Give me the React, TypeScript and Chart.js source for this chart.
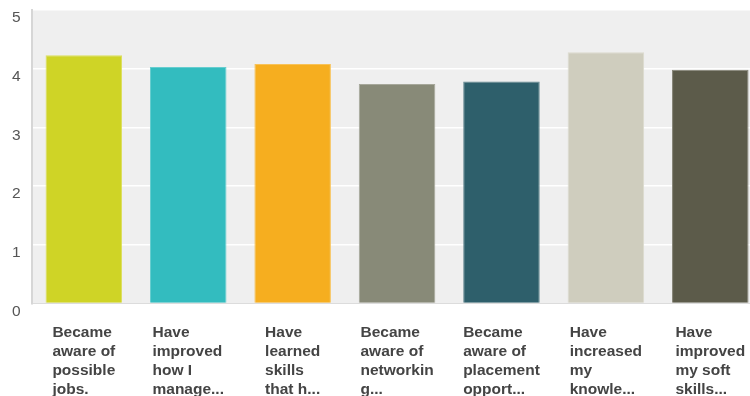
import React, { useEffect, useRef } from "react";
import { Chart, registerables } from "chart.js";

Chart.register(...registerables);

const categories: string[][] = [
  ["Became", "aware of", "possible", "jobs."],
  ["Have", "improved", "how I", "manage..."],
  ["Have", "learned", "skills", "that h..."],
  ["Became", "aware of", "networkin", "g..."],
  ["Became", "aware of", "placement", "opport..."],
  ["Have", "increased", "my", "knowle..."],
  ["Have", "improved", "my soft", "skills..."],
];
const values: number[] = [4.23, 4.03, 4.08, 3.74, 3.78, 4.28, 3.98];
const yTicks: number[] = [0, 1, 2, 3, 4, 5];

const barColors = ["#cfd426", "#33bcbf", "#f6ae1f", "#888a78", "#2e5f6b", "#cfcdbe", "#5c5b4a"];
const barBorders = ["#dbdf5c", "#66cdcf", "#f8c257", "#a6a79a", "#62878f", "#dbdace", "#858477"];

const FONT = '"Liberation Sans", Arial, sans-serif';

const bgPlugin = {
  id: "plotBg",
  beforeDraw(chart: any) {
    const { ctx, chartArea } = chart;
    ctx.save();
    ctx.fillStyle = "#efefef";
    ctx.fillRect(chartArea.left, chartArea.top, chartArea.right - chartArea.left, chartArea.bottom - chartArea.top);
    ctx.restore();
  },
};

const xLabelPlugin = {
  id: "xLabels",
  afterDraw(chart: any) {
    const { ctx, chartArea } = chart;
    const xScale = chart.scales.x;
    ctx.save();
    ctx.font = `bold 15.5px ${FONT}`;
    ctx.fillStyle = "#444444";
    ctx.textAlign = "left";
    ctx.textBaseline = "alphabetic";
    categories.forEach((lines, i) => {
      const cx = xScale.getPixelForValue(i);
      const w = Math.max(...lines.map((l) => ctx.measureText(l).width));
      const left = cx - w / 2;
      lines.forEach((line, j) => {
        ctx.fillText(line, left, chartArea.bottom + 33 + j * 19);
      });
    });
    ctx.restore();
  },
};

export default function App() {
  const ref = useRef<HTMLCanvasElement>(null);
  useEffect(() => {
    if (!ref.current) return;
    const chart = new Chart(ref.current, {
      type: "bar",
      data: {
        labels: categories.map((c) => c.join(" ")),
        datasets: [
          {
            data: values,
            backgroundColor: barColors,
            borderColor: barBorders,
            borderWidth: 1,
            barPercentage: 0.733,
            categoryPercentage: 1,
          },
        ],
      },
      options: {
        animation: false,
        responsive: false,
        maintainAspectRatio: false,
        layout: { padding: { left: 1, top: 10, right: 1.5, bottom: 92.5 } },
        plugins: { legend: { display: false }, tooltip: { enabled: false } },
        scales: {
          x: {
            ticks: { display: false },
            grid: { display: false, drawTicks: false },
            border: { display: true, color: "#dcdcdc", width: 1 },
          },
          y: {
            min: yTicks[0],
            max: yTicks[yTicks.length - 1],
            afterBuildTicks: (scale: any) => {
              scale.ticks = yTicks.map((v) => ({ value: v }));
            },
            afterFit: (scale: any) => {
              scale.paddingTop = 0;
              scale.paddingBottom = 0;
            },
            ticks: {
              stepSize: 1,
              padding: 11,
              labelOffset: 8,
              color: "#555",
              font: { family: FONT, size: 15.5 },
            },
            grid: {
              drawTicks: false,
              color: (ctx: any) => (ctx.tick && ctx.tick.value === 0 ? "rgba(0,0,0,0)" : "#ffffff"),
              lineWidth: 1.5,
            },
            border: { display: true, color: "#d6d6d6", width: 2 },
          },
        },
      },
      plugins: [bgPlugin, xLabelPlugin],
    });
    return () => chart.destroy();
  }, []);
  return (
    <div style={{ position: "fixed", left: 0, top: 0, width: 750, height: 396, overflow: "hidden", background: "#fff" }}>
      <canvas ref={ref} width={764} height={396} style={{ display: "block", width: 764, height: 396 }} />
    </div>
  );
}
